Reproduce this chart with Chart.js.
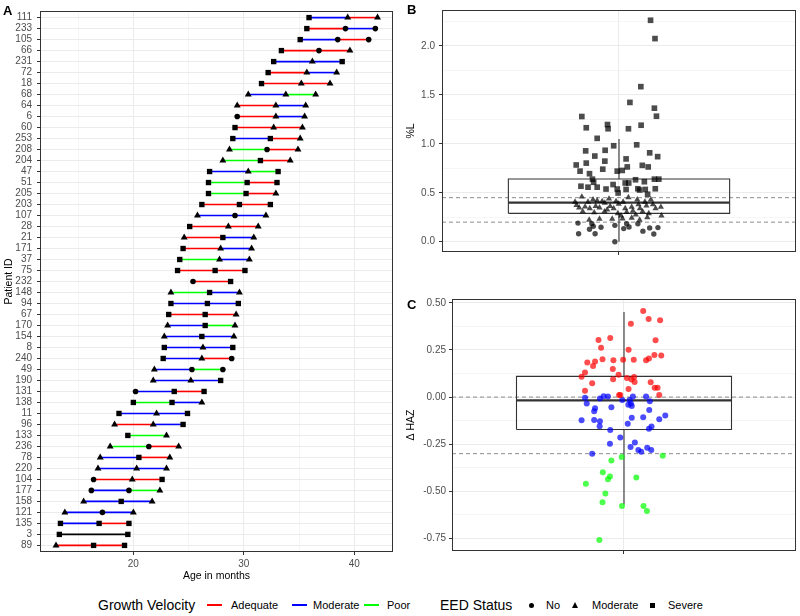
<!DOCTYPE html>
<html>
<head>
<meta charset="utf-8">
<script src="https://cdn.jsdelivr.net/npm/chart.js@4.4.0/dist/chart.umd.min.js"></script>
<style>
  body { margin: 0; background: #fff; font-family: "Liberation Sans", Arial, sans-serif; }
  #wrap { position: relative; width: 800px; height: 616px; overflow: hidden; background: #fff; }
  canvas { position: absolute; }
  .tag { position: absolute; font-weight: bold; font-size: 13px; line-height: 13px; color: #000; }
  .lg { position: absolute; top: 605px; transform: translateY(-50%); line-height: 1; white-space: nowrap; color: #000; font-size: 11px; }
  .lg.head { font-size: 14px; }
  .key { position: absolute; top: 604px; width: 15px; height: 2px; }
  .dot { position: absolute; background: #000; }
</style>
</head>
<body>
<div id="wrap">
  <canvas id="panelA" width="400" height="585" style="left:0;top:0"></canvas>
  <canvas id="panelB" width="400" height="262" style="left:400px;top:0"></canvas>
  <canvas id="panelC" width="400" height="280" style="left:400px;top:280px"></canvas>
  <div class="tag" style="left:3px;top:3.5px">A</div>
  <div class="tag" style="left:407px;top:2.5px">B</div>
  <div class="tag" style="left:407px;top:297.5px">C</div>

  <div class="lg head" style="left:98px">Growth Velocity</div>
  <div class="key" style="left:207px;background:#ff0000"></div>
  <div class="lg" style="left:231px">Adequate</div>
  <div class="key" style="left:292px;background:#0000ff"></div>
  <div class="lg" style="left:313px">Moderate</div>
  <div class="key" style="left:364px;background:#00ff00"></div>
  <div class="lg" style="left:387px">Poor</div>

  <div class="lg head" style="left:440px">EED Status</div>
  <div class="dot" style="left:529px;top:602.5px;width:5px;height:5px;border-radius:50%"></div>
  <div class="lg" style="left:546px">No</div>
  <div class="dot" style="left:571.5px;top:602px;width:0;height:0;background:none;border-left:3.5px solid transparent;border-right:3.5px solid transparent;border-bottom:6px solid #000"></div>
  <div class="lg" style="left:592px">Moderate</div>
  <div class="dot" style="left:650px;top:602.5px;width:5px;height:5px"></div>
  <div class="lg" style="left:668px">Severe</div>
</div>
<script>
// ---- panel A: ages at each visit, top row first ----
const patientIds = ['111','233','105','66','231','72','18','68','64','6','60','253','208','204','47','51','205','203','107','28','21','171','37','75','232','148','94','67','170','154','8','240','49','190','131','138','11','96','133','236','78','220','104','177','158','121','135','3','89'];
const visitAges = [
  [35.9,39.4,42.1],[35.7,39.2,41.9],[35.1,38.5,41.3],[33.4,36.8,39.6],[32.7,36.2,38.9],
  [32.2,35.7,38.4],[31.6,35.2,37.8],[30.4,33.8,36.5],[29.4,32.9,35.6],[29.4,32.9,35.5],
  [29.2,32.7,35.3],[29.0,32.4,35.1],[28.7,32.1,34.9],[28.1,31.5,34.2],[26.9,30.4,33.1],
  [26.8,30.3,33.0],[26.8,30.2,32.9],[26.2,29.6,32.4],[25.8,29.2,32.0],[25.1,28.6,31.3],
  [24.6,28.1,30.9],[24.5,27.9,30.7],[24.2,27.8,30.5],[24.0,27.4,30.1],[25.4,28.8],
  [23.4,26.9,29.6],[23.4,26.7,29.5],[23.2,26.5,29.3],[23.1,26.5,29.2],[22.8,26.2,29.1],
  [22.8,26.3,29.0],[22.7,26.2,28.9],[21.9,25.3,28.1],[21.8,25.2,27.9],[20.2,23.7,26.4],
  [20.0,23.5,26.2],[18.7,22.1,24.9],[18.3,21.8,24.5],[19.5,23.0],[17.9,21.4,24.1],
  [17.0,20.5,23.3],[16.8,20.3,23.0],[16.4,19.9,22.6],[16.2,19.6,22.4],[15.5,18.9,21.7],
  [13.8,17.2,20.0],[13.4,16.9,19.6],[13.3,19.5],[13.0,16.4,19.2]
];
// EED status per visit: N = No, M = Moderate, S = Severe
const eedStatus = ['SMM','SNN','SNN','SNM','SMS','SMM','SMM','MMM','MMM','NMM','SMM','SSM','MNM','MSM','SMS','SSS','SSM','SSS','MNM','SMM','MSM','SMM','SMM','SSS','NS','MSM','SSS','SSM','MSM','MSM','SMS','SMN','MNN','MMS','NSS','SSM','SMS','MMS','SM','MNM','MSM','MMM','NMS','NNM','MSM','MNM','SSS','SS','MSS'];
// growth velocity per interval: A = Adequate, M = Moderate, P = Poor, - = none
const growthVelocity = ['MA','AM','MA','AA','MM','AM','AA','MP','AM','AM','AA','MA','PA','PA','MP','PA','PA','AA','MM','AA','AM','AM','PM','AA','A','PM','MM','AA','MP','MM','MM','MA','MP','MM','MA','PM','MM','AM','P','PA','MA','MM','AA','MP','MM','MM','MA','-','AA'];
const ageTicks = [15, 20, 25, 30, 35, 40];
const ageLabels = [20, 30, 40];

// ---- panel B: %L, [jitter, value] ----
const pctLSevere = [[1.107,2.262],[1.122,2.075],[1.074,1.584],[1.037,1.423],[1.120,1.364],[1.127,1.282],[0.874,1.279],[0.961,1.197],[1.075,1.190],[0.889,1.164],[0.963,1.154],[1.032,1.154],[0.926,1.056],[1.060,0.990],[0.982,0.980],[0.953,0.934],[0.887,0.928],[1.104,0.908],[1.131,0.869],[0.918,0.875],[1.024,0.846],[0.952,0.823],[0.889,0.803],[1.079,0.780],[0.855,0.784],[1.099,0.764],[1.028,0.764],[0.945,0.741],[0.868,0.721],[0.994,0.721],[1.011,0.728],[0.900,0.695],[0.910,0.639],[1.120,0.639],[1.135,0.639],[1.056,0.633],[1.086,0.613],[1.033,0.600],[0.914,0.607],[0.871,0.567],[0.980,0.584],[0.895,0.557],[0.926,0.557],[1.021,0.600],[0.956,0.538],[1.064,0.541],[1.123,0.541],[0.994,0.538],[1.024,0.534],[1.089,0.534],[0.997,0.498],[1.070,0.528],[1.097,0.485]];
const pctLModerate = [[0.874,0.459],[0.851,0.407],[0.912,0.430],[0.943,0.413],[0.952,0.397],[0.865,0.348],[0.885,0.357],[0.901,0.341],[0.921,0.364],[0.934,0.348],[0.960,0.328],[0.982,0.341],[0.999,0.387],[1.014,0.407],[1.032,0.452],[1.043,0.354],[1.062,0.430],[1.071,0.341],[1.088,0.407],[1.108,0.430],[1.093,0.367],[1.124,0.341],[1.142,0.354],[1.144,0.266],[0.899,0.223],[0.934,0.233],[0.977,0.233],[1.012,0.236],[1.043,0.243],[1.070,0.223],[0.877,0.308],[0.951,0.308],[0.996,0.289],[1.026,0.302],[1.057,0.275],[1.101,0.289],[0.895,0.407],[0.970,0.364],[1.021,0.341],[1.080,0.308],[0.916,0.298],[0.990,0.413],[1.047,0.315],[1.115,0.380],[1.096,0.249],[0.926,0.420],[0.856,0.374],[0.966,0.439],[1.066,0.380],[1.007,0.266]];
const pctLNo = [[0.861,0.190],[0.863,0.082],[0.908,0.184],[0.900,0.128],[0.919,0.082],[0.939,0.148],[0.986,0.167],[0.986,0.000],[1.016,0.134],[1.034,0.151],[1.026,0.184],[1.064,0.184],[1.081,0.108],[1.104,0.141],[1.118,0.079],[1.132,0.144],[0.913,0.157]];
const pctLBox = [0.0, 0.29, 0.40, 0.64, 1.05];   // min, q1, median, q3, max
const pctLCutoffs = [0.2, 0.45];
const pctLTicks = [0, 0.5, 1, 1.5, 2];
const pctLMinor = [0.25, 0.75, 1.25, 1.75, 2.25];

// ---- panel C: delta HAZ, [jitter, value] ----
const hazAdequate = [[1.067,0.456],[1.086,0.414],[1.126,0.408],[1.024,0.389],[0.911,0.302],[0.952,0.313],[1.110,0.301],[0.920,0.262],[1.016,0.251],[0.925,0.200],[0.963,0.195],[0.997,0.198],[1.034,0.198],[1.077,0.195],[1.087,0.205],[1.106,0.223],[1.130,0.220],[0.872,0.184],[0.899,0.188],[0.892,0.165],[0.864,0.130],[0.961,0.149],[0.852,0.108],[0.962,0.094],[0.981,0.119],[1.010,0.101],[1.035,0.107],[1.026,0.093],[1.037,0.080],[1.093,0.078],[0.889,0.073],[1.107,0.050],[1.117,0.050],[0.864,0.034],[1.016,0.043],[0.983,0.011],[1.123,0.011],[0.987,0.011]];
const hazModerate = [[0.864,-0.003],[0.929,0.004],[0.944,0.003],[0.916,-0.008],[1.031,0.003],[1.077,0.003],[0.870,-0.034],[0.994,-0.015],[1.020,-0.015],[1.024,-0.034],[1.015,-0.040],[1.027,-0.047],[1.090,-0.022],[0.956,-0.054],[0.899,-0.059],[0.896,-0.075],[1.088,-0.068],[0.852,-0.123],[0.896,-0.121],[0.916,-0.128],[0.915,-0.154],[1.067,-0.107],[1.027,-0.110],[1.123,-0.117],[1.144,-0.098],[1.013,-0.142],[1.096,-0.156],[1.087,-0.168],[0.952,-0.175],[0.987,-0.214],[0.951,-0.248],[1.038,-0.241],[1.023,-0.265],[1.050,-0.280],[1.060,-0.290],[1.081,-0.269],[1.095,-0.280],[0.889,-0.301]];
const hazPoor = [[0.992,-0.317],[1.135,-0.311],[0.956,-0.336],[0.926,-0.399],[0.951,-0.421],[0.944,-0.435],[1.043,-0.426],[0.867,-0.459],[0.935,-0.511],[0.925,-0.558],[0.993,-0.578],[1.068,-0.578],[1.080,-0.604],[0.914,-0.758]];
const hazBox = [-0.569, -0.172, -0.017, 0.110, 0.451];
const hazCutoffs = [0, -0.3];
const hazTicks = [-0.75, -0.5, -0.25, 0, 0.25, 0.5];
const hazMinor = [-0.625, -0.375, -0.125, 0.125, 0.375];

// ---- styling ----
Chart.defaults.font.family = "'Liberation Sans', Arial, sans-serif";
const growthColors = { A: '#ff0000', M: '#0000ff', P: '#00ff00', '-': '#000000' };
const eedShapes = { N: 'circle', M: 'triangle', S: 'rect' };
const eedRadius = { N: 2.8, M: 4, S: 3.8 };
const gridCol = '#ebebeb';
const tickCol = '#4d4d4d';
const tickFont = { size: 10 };
const titleFont = { size: 10.5 };

const panelBorder = {
  id: 'panelBorder',
  afterDatasetsDraw(chart) {
    const { ctx, chartArea: a } = chart;
    ctx.save();
    ctx.strokeStyle = '#333';
    ctx.lineWidth = 1;
    ctx.strokeRect(Math.round(a.left) + 0.5, Math.round(a.top) + 0.5,
      Math.round(a.right - a.left) - 1, Math.round(a.bottom - a.top) - 1);
    ctx.restore();
  }
};

const baseOptions = {
  responsive: false,
  animation: false,
  devicePixelRatio: 1,
  events: [],
  plugins: { legend: { display: false }, tooltip: { enabled: false } }
};

// Panel A
const rowDatasets = patientIds.map((id, i) => {
  const row = patientIds.length - 1 - i;
  const eed = [...eedStatus[i]];
  const gv = [...growthVelocity[i]];
  return {
    label: id,
    data: visitAges[i].map(a => ({ x: a, y: row })),
    borderWidth: 1.6,
    borderColor: growthColors[gv[0]],
    segment: { borderColor: ctx => growthColors[gv[ctx.p0DataIndex]] },
    pointStyle: eed.map(s => eedShapes[s]),
    pointRadius: eed.map(s => eedRadius[s]),
    pointBackgroundColor: '#000',
    pointBorderColor: '#000',
    pointBorderWidth: 0,
    tension: 0
  };
});

new Chart(document.getElementById('panelA'), {
  type: 'line',
  data: { datasets: rowDatasets },
  options: {
    ...baseOptions,
    layout: { padding: { left: 0, top: 4, right: 7, bottom: 0 } },
    scales: {
      x: {
        type: 'linear', min: 11.55, max: 43.5, bounds: 'data',
        afterBuildTicks: s => { s.ticks = ageTicks.map(v => ({ value: v })); },
        afterFit: s => { s.height = 33; },
        ticks: { callback: v => ageLabels.includes(v) ? v : '', font: tickFont, color: tickCol, padding: 3, maxRotation: 0, autoSkip: false },
        grid: {
          color: gridCol,
          lineWidth: c => ageLabels.includes(c.tick.value) ? 1 : 0.5,
          tickLength: 3,
          tickColor: c => ageLabels.includes(c.tick.value) ? '#333' : 'rgba(0,0,0,0)'
        },
        border: { display: false },
        title: { display: true, text: 'Age in months', font: titleFont, color: '#000', padding: { top: 0, bottom: 3 } }
      },
      y: {
        type: 'linear', min: -0.6, max: patientIds.length - 0.4, bounds: 'data',
        afterBuildTicks: s => { s.ticks = patientIds.map((_, i) => ({ value: i })); },
        afterFit: s => { s.width = 40; },
        ticks: { callback: v => patientIds[patientIds.length - 1 - v], font: tickFont, color: tickCol, padding: 5, autoSkip: false },
        grid: { color: gridCol, lineWidth: 1, tickLength: 3, tickColor: '#333' },
        border: { display: false },
        title: { display: true, text: 'Patient ID', font: titleFont, color: '#000', padding: { top: 3, bottom: 0 } }
      }
    }
  },
  plugins: [panelBorder]
});

// box + jitter panels
function boxDatasets(stats) {
  const [lo, q1, med, q3, hi] = stats;
  const half = 0.375;
  const l = 1 - half, r = 1 + half;
  const seg = (pts, w) => ({ data: pts, showLine: true, borderColor: '#333', borderWidth: w, pointRadius: 0, order: 1, borderJoinStyle: 'miter' });
  return [
    seg([{ x: l, y: q1 }, { x: r, y: q1 }, { x: r, y: q3 }, { x: l, y: q3 }, { x: l, y: q1 }], 1.1),
    seg([{ x: l, y: med }, { x: r, y: med }], 2.2),
    seg([{ x: 1, y: q3 }, { x: 1, y: hi }], 1.1),
    seg([{ x: 1, y: lo }, { x: 1, y: q1 }], 1.1)
  ];
}
function cutoffDataset(v) {
  return { data: [{ x: 0.4, y: v }, { x: 1.6, y: v }], showLine: true, borderColor: '#8c8c8c', borderWidth: 1, borderDash: [4, 3], pointRadius: 0, order: 2 };
}
function pointDataset(pairs, shape, radius, color) {
  return {
    data: pairs.map(([x, y]) => ({ x, y })),
    pointStyle: shape, pointRadius: radius,
    pointBackgroundColor: color, pointBorderWidth: 0, order: 0
  };
}
function boxScales(yMin, yMax, major, minor, fmt, yWidth, xHeight, title, pad) {
  return {
    x: {
      type: 'linear', min: 0.4, max: 1.6, bounds: 'data',
      afterBuildTicks: s => { s.ticks = [{ value: 1 }]; },
      afterFit: s => { s.height = xHeight; },
      ticks: { display: false },
      grid: { color: gridCol, lineWidth: 1, tickLength: 3, tickColor: '#333' },
      border: { display: false }
    },
    y: {
      type: 'linear', min: yMin, max: yMax, bounds: 'data',
      afterBuildTicks: s => { s.ticks = major.concat(minor).sort((a, b) => a - b).map(v => ({ value: v })); },
      afterFit: s => { s.width = yWidth; },
      ticks: { callback: v => major.includes(v) ? fmt(v) : '', font: tickFont, color: tickCol, padding: pad, autoSkip: false },
      grid: {
        color: gridCol,
        lineWidth: c => major.includes(c.tick.value) ? 1 : 0.5,
        tickLength: 3,
        tickColor: c => major.includes(c.tick.value) ? '#333' : 'rgba(0,0,0,0)'
      },
      border: { display: false },
      title: { display: true, text: title, font: titleFont, color: '#000', padding: { top: 4.5, bottom: 0 } }
    }
  };
}

// Panel B
const greyPt = 'rgba(0,0,0,0.7)';
new Chart(document.getElementById('panelB'), {
  type: 'scatter',
  data: {
    datasets: [
      pointDataset(pctLNo, 'circle', 2.7, greyPt),
      pointDataset(pctLModerate, 'triangle', 3.6, greyPt),
      pointDataset(pctLSevere, 'rect', 4, greyPt),
      ...boxDatasets(pctLBox),
      ...pctLCutoffs.map(cutoffDataset)
    ]
  },
  options: {
    ...baseOptions,
    layout: { padding: { left: 0, top: 5, right: 3, bottom: 0 } },
    scales: boxScales(-0.105, 2.367, pctLTicks, pctLMinor, v => v.toFixed(1), 42, 6, '%L', 4)
  },
  plugins: [panelBorder]
});

// Panel C
new Chart(document.getElementById('panelC'), {
  type: 'scatter',
  data: {
    datasets: [
      pointDataset(hazAdequate, 'circle', 3, 'rgba(255,0,0,0.7)'),
      pointDataset(hazModerate, 'circle', 3, 'rgba(0,0,255,0.7)'),
      pointDataset(hazPoor, 'circle', 3, 'rgba(0,255,0,0.7)'),
      ...boxDatasets(hazBox),
      ...hazCutoffs.map(cutoffDataset)
    ]
  },
  options: {
    ...baseOptions,
    layout: { padding: { left: 0, top: 19, right: 3, bottom: 0 } },
    scales: boxScales(-0.816, 0.52, hazTicks, hazMinor, v => v.toFixed(2), 52, 8, 'Δ HAZ', 3)
  },
  plugins: [panelBorder]
});
</script>
</body>
</html>
